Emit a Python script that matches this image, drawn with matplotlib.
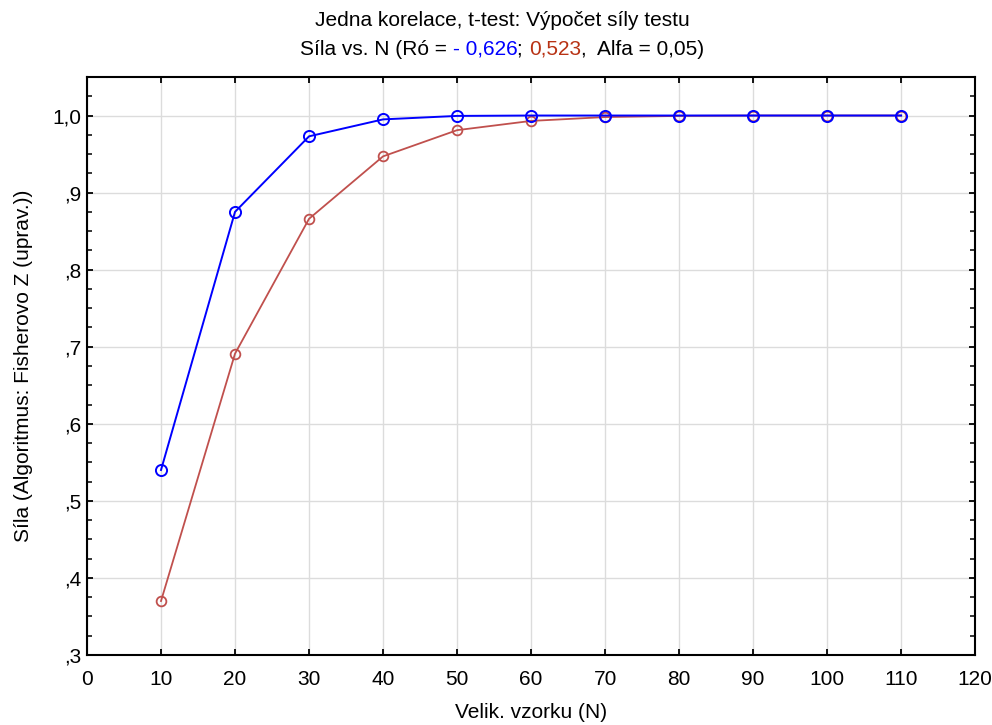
import matplotlib
matplotlib.use('Agg')
from matplotlib import pyplot as plt
from matplotlib.ticker import FuncFormatter, MultipleLocator, AutoMinorLocator

n = [10, 20, 30, 40, 50, 60, 70, 80, 90, 100, 110]
power_blue = [0.540, 0.875, 0.973, 0.995, 0.9995, 1.0, 1.0, 1.0, 1.0, 1.0, 1.0]
power_red = [0.370, 0.691, 0.866, 0.947, 0.981, 0.993, 0.998, 0.9995, 1.0, 1.0, 1.0]

BLUE = '#0000ff'
RED = '#c0504d'
TITLE_RED = '#b83214'


def ytick_fmt(v, pos):
    s = '%.1f' % v
    s = s.replace('.', ',')
    if s.startswith('0'):
        s = s[1:]
    return s


def main():
    plt.rcParams['font.family'] = ['Liberation Sans', 'DejaVu Sans']
    fs = 15

    fig = plt.figure(figsize=(9.92, 7.25), dpi=100)
    ax = fig.add_axes([0.0877, 0.0966, 0.8953, 0.7972])

    ax.plot(n, power_red, color=RED, lw=1.3, marker='o', ms=7,
            mfc='none', mec=RED, mew=1.3, zorder=3)
    ax.plot(n, power_blue, color=BLUE, lw=1.4, marker='o', ms=8,
            mfc='none', mec=BLUE, mew=1.4, zorder=4)

    ax.set_xlim(0, 120)
    ax.set_ylim(0.3, 1.05)
    ax.xaxis.set_major_locator(MultipleLocator(10))
    ax.yaxis.set_major_locator(MultipleLocator(0.1))
    ax.yaxis.set_minor_locator(AutoMinorLocator(4))
    ax.yaxis.set_major_formatter(FuncFormatter(ytick_fmt))
    ax.grid(True, which='major', color='#dcdcdc', lw=1.0)
    ax.set_axisbelow(True)
    ax.tick_params(which='both', direction='in', top=True, right=True,
                   labelsize=fs)
    ax.tick_params(which='major', length=4, width=1.3, pad=4)
    ax.tick_params(which='minor', length=3.5, width=1.1)
    ax.tick_params(axis='x', which='major', pad=11)
    for sp in ax.spines.values():
        sp.set_linewidth(1.5)

    ax.set_xlabel('Velik. vzorku (N)', fontsize=fs, labelpad=10)
    ax.set_ylabel('Síla (Algoritmus: Fisherovo Z (uprav.))', fontsize=fs,
                  labelpad=14)

    fig.text(0.506, 0.972, 'Jedna korelace, t-test: Výpočet síly testu',
             ha='center', va='center', fontsize=fs)

    # second title line with coloured parts
    parts = [('Síla vs. N (Ró = ', 'black'), ('- 0,626', BLUE),
             ('; ', 'black'), ('0,523', TITLE_RED),
             (',  Alfa = 0,05)', 'black')]
    renderer = fig.canvas.get_renderer()
    texts = []
    widths = []
    for s, c in parts:
        t = fig.text(0, 0.932, s, color=c, ha='left', va='center',
                     fontsize=fs)
        texts.append(t)
        widths.append(t.get_window_extent(renderer).width)
    total = sum(widths)
    fw = fig.get_figwidth() * fig.dpi
    x = 0.506 * fw - total / 2
    for t, w in zip(texts, widths):
        t.set_x(x / fw)
        x += w

    fig.savefig('out.png', dpi=100)


if __name__ == '__main__':
    main()
